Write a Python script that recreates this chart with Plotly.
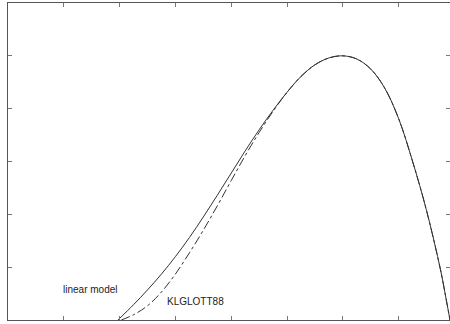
import plotly.graph_objects as go

# Glottal flow pulse over one period (arbitrary units)
# Shared closing phase (both models coincide after the flow peak)
closing_t = [5.25, 5.5, 5.75, 6.0, 6.25, 6.5, 6.75, 7.0, 7.25, 7.5, 7.75, 7.85, 7.92]
closing_g = [4.61, 4.83, 4.96, 5.0, 4.94, 4.75, 4.39, 3.81, 3.00, 2.07, 0.95, 0.40, 0.0]

# Opening phase, linear model
linear_open_t = [1.97, 2.25, 2.5, 2.75, 3.0, 3.25, 3.5, 3.75, 4.0, 4.25, 4.5, 4.75, 5.0]
linear_open_g = [0.0, 0.29, 0.57, 0.87, 1.20, 1.56, 1.95, 2.36, 2.78, 3.20, 3.60, 3.97, 4.31]

# Opening phase, KLGLOTT88
klglott_open_t = [2.03, 2.25, 2.5, 2.75, 3.0, 3.25, 3.5, 3.75, 4.0, 4.25, 4.5, 4.75, 5.0]
klglott_open_g = [0.0, 0.10, 0.27, 0.53, 0.87, 1.27, 1.70, 2.16, 2.64, 3.11, 3.55, 3.95, 4.31]

x_ticks = [0, 1, 2, 3, 4, 5, 6, 7]
y_ticks = [0, 1, 2, 3, 4, 5, 6]

labels = [("linear model", 1.473, 0.568), ("KLGLOTT88", 3.36, 0.347)]

fig = go.Figure()
fig.add_trace(go.Scatter(x=linear_open_t + closing_t, y=linear_open_g + closing_g,
                         mode="lines",
                         line=dict(color="#333333", width=1, shape="spline", smoothing=1)))
fig.add_trace(go.Scatter(x=klglott_open_t + closing_t, y=klglott_open_g + closing_g,
                         mode="lines",
                         line=dict(color="#333333", width=1, dash="dashdot",
                                   shape="spline", smoothing=1)))

for text, x, y in labels:
    fig.add_annotation(x=x, y=y, text=text, showarrow=False,
                       font=dict(family="Liberation Sans, Arial", size=10, color="#222222"))

axis_style = dict(showline=True, linecolor="#555555", linewidth=1, mirror="ticks",
                  ticks="inside", ticklen=4, tickcolor="#777777", tickwidth=1,
                  showticklabels=False, showgrid=False, zeroline=False)

fig.update_xaxes(range=[0, 7.92], tickvals=x_ticks, **axis_style)
fig.update_yaxes(range=[0, 6], tickvals=y_ticks, **axis_style)

fig.update_layout(width=450, height=324, showlegend=False,
                  margin=dict(l=8, r=0, t=3, b=4),
                  paper_bgcolor="white", plot_bgcolor="white")

fig.write_html("out.html")
